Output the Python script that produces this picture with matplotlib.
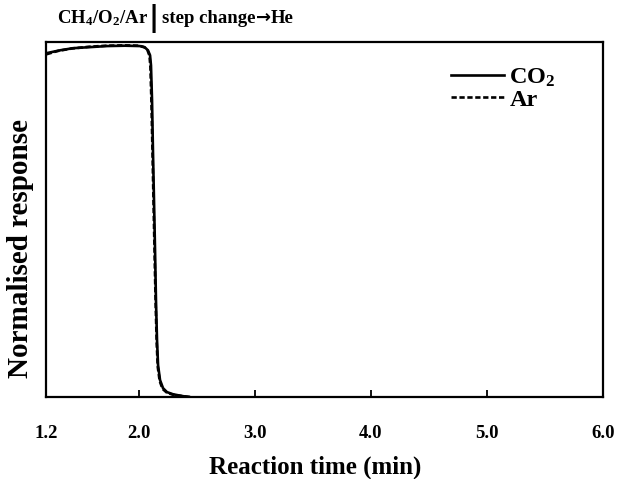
import matplotlib
import numpy as np

matplotlib.use("Agg")
import matplotlib.pyplot as plt
from matplotlib.lines import Line2D

# ---- data (time in min, normalised response) ----
t_co2 = [1.206, 1.321, 1.433, 1.579, 1.726, 1.881, 2.010, 2.053, 2.079, 2.097,
         2.105, 2.114, 2.122, 2.131, 2.140, 2.148, 2.157, 2.166, 2.183, 2.209,
         2.243, 2.295, 2.372, 2.441]
y_co2 = [0.969, 0.977, 0.983, 0.986, 0.989, 0.990, 0.989, 0.985, 0.977, 0.963,
         0.935, 0.837, 0.696, 0.555, 0.414, 0.273, 0.161, 0.090, 0.048, 0.025,
         0.014, 0.008, 0.003, 0.000]

t_ar = [1.206, 1.300, 1.420, 1.570, 1.720, 1.880, 2.005, 2.048, 2.074, 2.092,
        2.100, 2.109, 2.118, 2.127, 2.136, 2.145, 2.154, 2.163, 2.180, 2.205,
        2.240, 2.290, 2.370, 2.441]
y_ar = [0.966, 0.975, 0.982, 0.987, 0.990, 0.991, 0.990, 0.986, 0.978, 0.962,
        0.930, 0.830, 0.690, 0.548, 0.405, 0.265, 0.155, 0.086, 0.045, 0.023,
        0.013, 0.007, 0.003, 0.000]

x_ticks = [1.2, 2.0, 3.0, 4.0, 5.0, 6.0]
x_ticklabels = ["1.2", "2.0", "3.0", "4.0", "5.0", "6.0"]

plt.rcParams["font.family"] = ["Liberation Serif", "DejaVu Serif"]
plt.rcParams["font.weight"] = "bold"
plt.rcParams["mathtext.fontset"] = "custom"
plt.rcParams["mathtext.rm"] = "Liberation Serif:bold"
plt.rcParams["mathtext.it"] = "Liberation Serif:bold"
plt.rcParams["mathtext.bf"] = "Liberation Serif:bold"

W, H = 621, 479
fig = plt.figure(figsize=(W / 100, H / 100), dpi=100)
ax = fig.add_axes([0.074, 0.171, 0.897, 0.741])

ax.plot(t_co2, y_co2, color="black", lw=1.9, solid_capstyle="round")
ax.plot(t_ar, y_ar, color="black", lw=1.9, linestyle=(0, (2, 1)))

ax.set_xlim(1.2, 6.0)
ax.set_ylim(0, 1.0)
ax.set_xticks(x_ticks)
ax.set_xticklabels(x_ticklabels, fontsize=13.5, fontweight="bold")
ax.set_yticks([])
ax.tick_params(axis="x", direction="in", length=5, width=1.3, pad=20)
for s in ax.spines.values():
    s.set_linewidth(1.6)

ax.set_xlabel("Reaction time (min)", fontsize=18, fontweight="bold")
ax.xaxis.set_label_coords(0.484, -0.165)
ax.set_ylabel("Normalised response", fontsize=21, fontweight="bold")
ax.yaxis.set_label_coords(-0.022, 0.42)

handles = [Line2D([], [], color="black", lw=1.9),
           Line2D([], [], color="black", lw=1.9, linestyle=(0, (2, 1)))]
ax.legend(handles, ["CO$_2$", "Ar"], loc="upper right", bbox_to_anchor=(0.915, 0.932),
          frameon=False, fontsize=17.5, handlelength=2.2, handletextpad=0.2,
          labelspacing=0.0, borderpad=0, borderaxespad=0)

# title pieces laid out left to right
renderer = fig.canvas.get_renderer()
x_px, y_frac = 57, 0.962
pieces = [
    (r"CH$_4$/O$_2$/Ar", 13.5, ["Liberation Serif"], 1),
    ("|", 20, ["DejaVu Sans"], 3),
    ("step change", 13.5, ["Liberation Serif"], 0),
    ("\u2192", 13, ["DejaVu Sans"], 0),
    ("He", 13.5, ["Liberation Serif"], 0),
]
for txt, size, fam, gap in pieces:
    t = fig.text(x_px / W, y_frac, txt, fontsize=size, fontweight="bold",
                 family=fam, va="center")
    bb = t.get_window_extent(renderer)
    x_px = bb.x1 + gap

fig.savefig("out.png", dpi=100)
